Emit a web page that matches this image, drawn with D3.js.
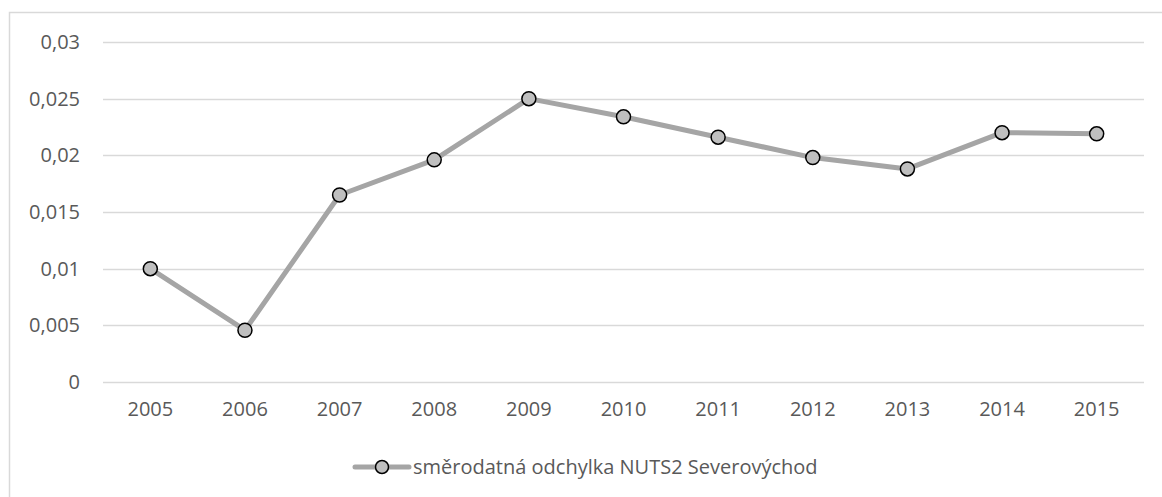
<!DOCTYPE html>
<html>
<head>
<meta charset="utf-8">
<script src="https://cdn.jsdelivr.net/npm/d3@7"></script>
<style>
  body { margin: 0; background: #fff; }
  text { font-family: "Open Sans", "Noto Sans", sans-serif; fill: #595959; }
</style>
</head>
<body>
<div id="VizBox"></div>
<script>
var years = ["2005", "2006", "2007", "2008", "2009", "2010", "2011", "2012", "2013", "2014", "2015"];
var values = [0.0100, 0.00457, 0.0165, 0.0196, 0.0250, 0.0234, 0.0216, 0.0198, 0.0188, 0.0220, 0.0219];
var yTicks = [0, 0.005, 0.01, 0.015, 0.02, 0.025, 0.03];
var yTickLabels = ["0", "0,005", "0,01", "0,015", "0,02", "0,025", "0,03"];
var seriesName = "směrodatná odchylka NUTS2 Severovýchod";

var W = 1162, H = 497;
var margin = {top: 42, right: 18, bottom: 115, left: 103};
var width = W - margin.left - margin.right;
var height = H - margin.top - margin.bottom;

var root = d3.select("#VizBox")
  .append("svg")
    .attr("width", W)
    .attr("height", H);

// chart frame
root.append("rect")
  .attr("x", 9.5).attr("y", 12.5)
  .attr("width", W + 20).attr("height", H + 20)
  .attr("fill", "none")
  .attr("stroke", "#d9d9d9")
  .attr("stroke-width", 1.5);

var svg = root.append("g")
  .attr("transform", "translate(" + margin.left + "," + margin.top + ")");

var x = d3.scaleBand()
  .domain(years)
  .range([0, width]);

var y = d3.scaleLinear()
  .domain([0, 0.03])
  .range([height, 0]);

// gridlines
svg.selectAll(".grid")
  .data(yTicks)
  .enter()
  .append("line")
    .attr("x1", 0).attr("x2", width)
    .attr("y1", function(d) { return Math.round(y(d)) + 0.5; })
    .attr("y2", function(d) { return Math.round(y(d)) + 0.5; })
    .attr("stroke", "#d9d9d9")
    .attr("stroke-width", 1.5);

// Y axis labels
var yAxis = svg.append("g")
  .call(d3.axisLeft(y).tickValues(yTicks).tickSize(0).tickPadding(23)
    .tickFormat(function(d, i) { return yTickLabels[i]; }));
yAxis.select(".domain").remove();
yAxis.selectAll("text").style("font-size", "20px").attr("fill", "#595959");

// X axis labels
var xAxis = svg.append("g")
  .attr("transform", "translate(0," + height + ")")
  .call(d3.axisBottom(x).tickSize(0).tickPadding(20));
xAxis.select(".domain").remove();
xAxis.selectAll("text").style("font-size", "20px").attr("fill", "#595959");

var data = years.map(function(d, i) { return {year: d, value: values[i]}; });

// line
var line = d3.line()
  .x(function(d) { return x(d.year) + x.bandwidth() / 2; })
  .y(function(d) { return y(d.value); });

svg.append("path")
  .datum(data)
  .attr("d", line)
  .attr("fill", "none")
  .attr("stroke", "#a5a5a5")
  .attr("stroke-width", 5)
  .attr("stroke-linejoin", "round");

// markers
svg.selectAll(".dot")
  .data(data)
  .enter()
  .append("circle")
    .attr("cx", function(d) { return x(d.year) + x.bandwidth() / 2; })
    .attr("cy", function(d) { return y(d.value); })
    .attr("r", 7)
    .attr("fill", "#bfbfbf")
    .attr("stroke", "#000")
    .attr("stroke-width", 1.5);

// legend
var legend = root.append("g").attr("transform", "translate(355,467)");
legend.append("line")
  .attr("x1", 0).attr("x2", 54)
  .attr("y1", 0).attr("y2", 0)
  .attr("stroke", "#a5a5a5")
  .attr("stroke-width", 5)
  .attr("stroke-linecap", "round");
legend.append("circle")
  .attr("cx", 27).attr("cy", 0).attr("r", 6.5)
  .attr("fill", "#bfbfbf")
  .attr("stroke", "#000")
  .attr("stroke-width", 1.5);
legend.append("text")
  .attr("x", 58).attr("y", 0)
  .attr("dy", "0.35em")
  .style("font-size", "20px")
  .text(seriesName);
</script>
</body>
</html>
